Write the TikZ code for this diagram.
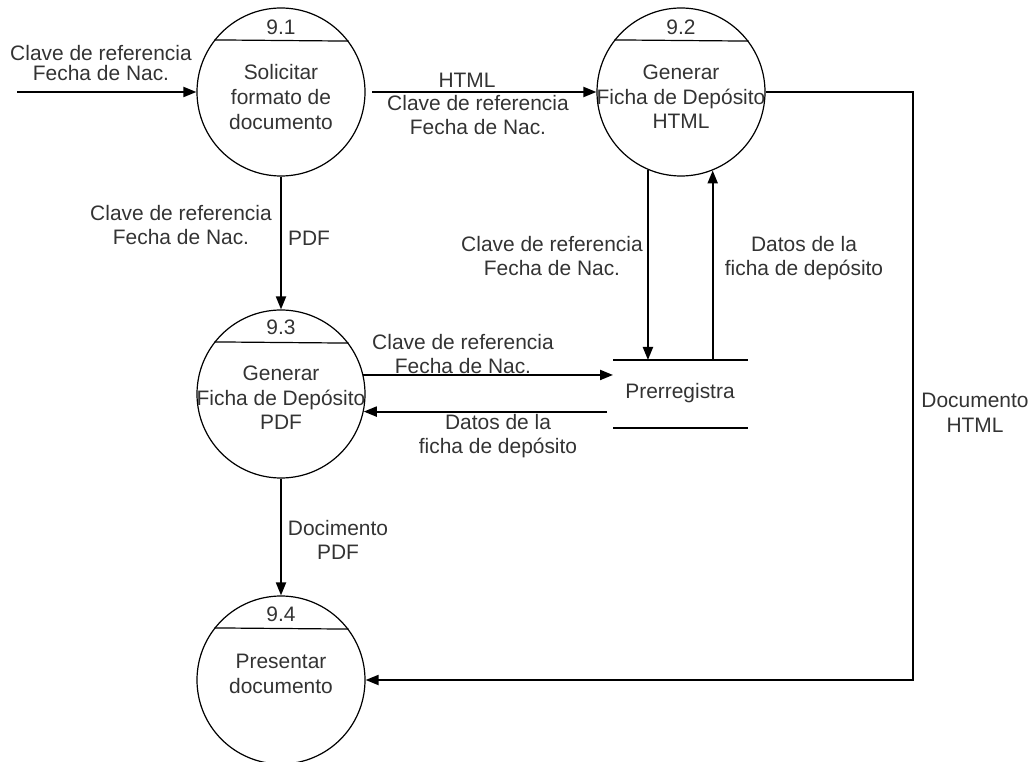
\documentclass[tikz,border=0pt]{standalone}
\usepackage{fontspec}
\setmainfont{Liberation Sans}
\usetikzlibrary{arrows.meta}

\begin{document}
\begin{tikzpicture}[x=0.75pt,y=0.75pt,yscale=-1,xscale=1,
	proc/.style={draw, circle, line width=0.9pt, minimum size=126pt, inner sep=0pt},
	txt/.style={text=black!80, font=\fontsize{15.7}{18.5}\selectfont, align=center, inner sep=0pt},
	flow/.style={line width=1.5pt, -{Triangle[length=9.75pt,width=7.5pt]}},
	store/.style={line width=1.5pt}]
	\useasboundingbox (0,0) rectangle (1031,762);
	\node [proc] (p1) at (281,92) {};
	\node [proc] (p2) at (681,92) {};
	\node [proc] (p3) at (281,394) {};
	\node [proc] (p4) at (281,680) {};
	\draw [line width=0.9pt] (p1.142.6) -- (p1.37.4) ;
	\draw [line width=0.9pt] (p2.142.6) -- (p2.37.4) ;
	\draw [line width=0.9pt] (p3.142.6) -- (p3.37.4) ;
	\draw [line width=0.9pt] (p4.142.6) -- (p4.37.4) ;
	\node [txt] (n1) at (281,27) {9.1};
	\node [txt] (n2) at (681,27) {9.2};
	\node [txt] (n3) at (281,327) {9.3};
	\node [txt] (n4) at (281,614) {9.4};
	\node [txt] (t1) at (281,97) {Solicitar\\formato de\\documento};
	\node [txt] (t2) at (681,97) {Generar\\Ficha de Depósito\\HTML};
	\node [txt] (t3) at (281,398) {Generar\\Ficha de Depósito\\PDF};
	\node [txt] (t4) at (281,674) {Presentar\\documento};
	\coordinate (stl) at (613,360);
	\coordinate (str) at (748,360);
	\coordinate (sbl) at (613,428);
	\coordinate (sbr) at (748,428);
	\draw [store] (stl) -- (str) ;
	\draw [store] (sbl) -- (sbr) ;
	\node [txt] (st) at (680,393) {Prerregistra};
	\coordinate (src) at (17,92);
	\coordinate (rt) at (913,92);
	\draw [flow] (src) -- (p1) ;
	\draw [flow, shorten <=5pt] (p1) -- (p2) ;
	\draw [flow] (p1) -- (p3) ;
	\draw [flow] (p3) -- (p4) ;
	\draw [flow] (p2.247) -- (p2.247 |- stl) ;
	\draw [flow] (p2.292.5 |- stl) -- (p2.292.5) ;
	\draw [flow] (p3.13) -- (p3.13 -| stl) ;
	\draw [flow, shorten <=4.5pt] (p3.-12 -| sbl) -- (p3.-12) ;
	\draw [flow] (p2) -- (rt) |- (p4) ;
	\node [txt, align=center, font=\fontsize{15.7}{14.5}\selectfont] (lin) at (101,63) {Clave de referencia\\Fecha de Nac.};
	\node [txt] (lhtml) at (467,80) {HTML};
	\node [txt] (lk12) at (478,115) {Clave de referencia\\Fecha de Nac.};
	\node [txt] (lk13) at (181,225) {Clave de referencia\\Fecha de Nac.};
	\node [txt] (lpdf) at (309,238) {PDF};
	\node [txt] (lk2s) at (552,256) {Clave de referencia\\Fecha de Nac.};
	\node [txt] (ld2) at (804,258) {Datos de la\\ficha de depósito};
	\node [txt] (lk3s) at (463,354) {Clave de referencia\\Fecha de Nac.};
	\node [txt] (ld3) at (498,436) {Datos de la\\ficha de depósito};
	\node [txt] (ldp) at (338,540) {Docimento\\PDF};
	\node [txt] (ldh) at (975,413) {Documento\\HTML};
\end{tikzpicture}
\end{document}
